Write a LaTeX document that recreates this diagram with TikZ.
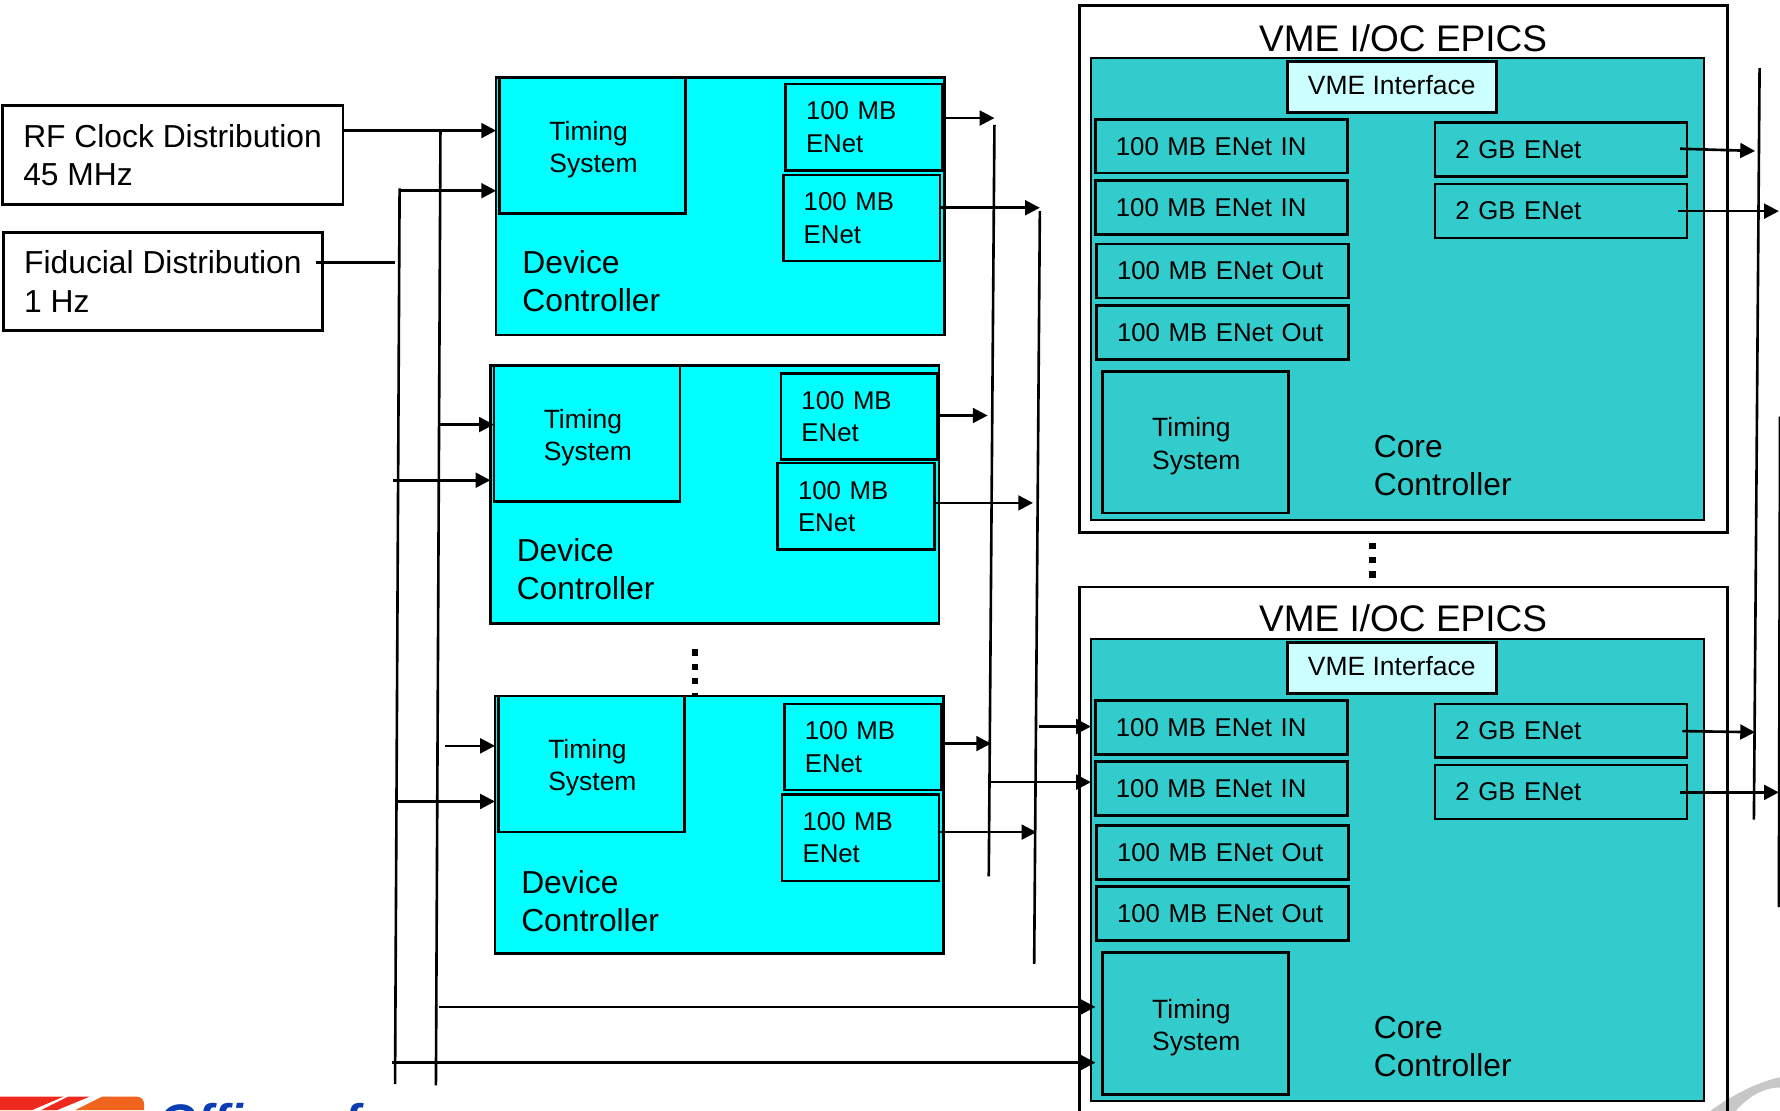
\documentclass[tikz,border=0pt]{standalone}
\usepackage{fontspec}
\setmainfont{Liberation Sans}
\usepackage{tikz}
\usetikzlibrary{arrows.meta,positioning,calc}
\definecolor{devcyan}{HTML}{00FFFF}
\definecolor{coreteal}{HTML}{33CCCC}
\definecolor{vmepale}{HTML}{CCFFFF}
\definecolor{logoblue}{HTML}{0A3CB4}
\definecolor{logored}{HTML}{EE2A1E}
\definecolor{logoorange}{HTML}{F0641E}
\newcommand{\bigsize}{\fontsize{28}{33.6}\selectfont}
\newcommand{\smallsize}{\fontsize{23.3}{28.3}\selectfont}
\newcommand{\netsize}{\fontsize{22.7}{28.5}\selectfont}
\newcommand{\timinglabel}{\rule{0pt}{24pt}Timing\\System}

\begin{document}
\begin{tikzpicture}[
  x=1pt, y=-1pt,
  box/.style={draw, line width=2.3pt, anchor=north west, inner sep=0pt, outer sep=0pt},
  srcbox/.style={box, fill=white, align=left, font=\bigsize, inner xsep=15.5pt, text depth=0pt},
  devbox/.style={box, fill=devcyan, minimum width=395pt, minimum height=227pt},
  timebox/.style={box, align=left, font=\smallsize, inner xsep=44pt, text width=76pt, minimum height=120pt},
  netbox/.style={box, align=left, font=\netsize, inner xsep=18pt, text width=102pt, minimum height=76pt},
  vmebox/.style={box, minimum width=571pt, minimum height=464pt},
  corebox/.style={box, fill=coreteal, minimum width=540pt, minimum height=407pt},
  ifacebox/.style={box, fill=vmepale, font=\smallsize, minimum width=184pt, minimum height=45pt, text depth=4pt},
  linkbox/.style={box, align=left, font=\netsize, inner xsep=18pt, text width=186pt, minimum height=47.5pt},
  ctrl/.style={anchor=west, align=left, font=\bigsize, inner sep=0pt},
  title/.style={anchor=center, font=\fontsize{32.6}{38}\selectfont, inner sep=0pt},
  arr/.style={-{Triangle[length=13pt,width=13pt]}, line width=2.3pt},
  bus/.style={line width=2.3pt},
  vdots/.style={line width=5.5pt, dash pattern=on 5.5pt off 7.2pt}
]
\clip (0,0) rectangle (1568,978);

% logos
\fill[logored] (0,966) -- (56,966) -- (28,978) -- (0,978) -- cycle;
\fill[logored] (60,966) -- (79,966) -- (50,978) -- (36,978) -- cycle;
\fill[logoorange] (66,978) -- (90,966) -- (120,966) .. controls (125,966) and (127,969) .. (127,974) -- (127,978) -- cycle;
\node[anchor=base west, inner sep=0pt, text=logoblue, font=\fontsize{44}{44}\selectfont\bfseries\itshape] (office) at (139,1004) {Office of};
\fill[black!22] (1498,985) .. controls (1522,966) and (1548,953) .. (1568,949) -- (1568,958) .. controls (1552,958) and (1536,968) .. (1524,985) -- cycle;

% sources
\node[srcbox, minimum width=300pt, minimum height=87pt] (rf) at (2,93) {RF Clock Distribution\\45 MHz};
\node[srcbox, minimum width=281pt, minimum height=86pt] (fid) at (3,205) {Fiducial Distribution\\1 Hz};

% device controllers
\node[devbox] (dev1) at (437,68) {};
\node[timebox] (tim1) at (440,68) {\timinglabel};
\node[netbox] (net1a) at (692,74) {100 MB\\ENet};
\node[netbox] (net1b) at (690,154) {100 MB\\ENet};
\node[ctrl] (lab1) at (460,248) {Device\\Controller};

\node[devbox] (dev2) at (432,322) {};
\node[timebox] (tim2) at (435,322) {\timinglabel};
\node[netbox] (net2a) at (688,329) {100 MB\\ENet};
\node[netbox] (net2b) at (685,408) {100 MB\\ENet};
\node[ctrl] (lab2) at (455,501.5) {Device\\Controller};

\node[devbox] (dev3) at (436,613) {};
\node[timebox] (tim3) at (439,613) {\timinglabel};
\node[netbox] (net3a) at (691,620) {100 MB\\ENet};
\node[netbox] (net3b) at (689,700) {100 MB\\ENet};
\node[ctrl] (lab3) at (459,793.5) {Device\\Controller};

% vme crates
\node[vmebox] (vme1) at (951,5) {};
\node[title] (ttl1) at (1236,34) {VME I/OC EPICS};
\node[corebox] (core1) at (961,51) {};
\node[ifacebox] (if1) at (1134,54) {VME Interface};
\node[linkbox] (in1a) at (965,105) {100 MB ENet IN};
\node[linkbox] (in1b) at (965,159) {100 MB ENet IN};
\node[linkbox] (out1a) at (966,215) {100 MB ENet Out};
\node[linkbox] (out1b) at (966,269) {100 MB ENet Out};
\node[linkbox] (gb1a) at (1264,108) {2 GB ENet};
\node[linkbox] (gb1b) at (1264,162) {2 GB ENet};
\node[timebox, minimum height=125pt] (tim4) at (971,327) {\timinglabel};
\node[ctrl] (lab4) at (1210,410) {Core\\Controller};

\node[vmebox] (vme2) at (951,517) {};
\node[title] (ttl2) at (1236,545) {VME I/OC EPICS};
\node[corebox] (core2) at (961,563) {};
\node[ifacebox] (if2) at (1134,566) {VME Interface};
\node[linkbox] (in2a) at (965,617) {100 MB ENet IN};
\node[linkbox] (in2b) at (965,671) {100 MB ENet IN};
\node[linkbox] (out2a) at (966,727) {100 MB ENet Out};
\node[linkbox] (out2b) at (966,781) {100 MB ENet Out};
\node[linkbox] (gb2a) at (1264,620) {2 GB ENet};
\node[linkbox] (gb2b) at (1264,674) {2 GB ENet};
\node[timebox, minimum height=125pt] (tim5) at (971,839) {\timinglabel};
\node[ctrl] (lab5) at (1210,922) {Core\\Controller};

% dots between the stacked boxes
\coordinate (dota) at (612,572);
\coordinate (dotb) at (612,613);
\coordinate (dotc) at (1209,478);
\coordinate (dotd) at (1209,512);
\draw[vdots] (dota) -- (dotb);
\draw[vdots] (dotc) -- (dotd);

% bus lines
\coordinate (clka) at (388,115);
\coordinate (clkb) at (384,956);
\coordinate (fida) at (352,166);
\coordinate (fidb) at (348,955);
\coordinate (neta) at (876,110);
\coordinate (netb) at (871,772);
\coordinate (netc) at (916,186);
\coordinate (netd) at (911,849);
\coordinate (upa) at (1550,60);
\coordinate (upb) at (1545,722);
\coordinate (upc) at (1568,367);
\coordinate (upd) at (1567,799);
\draw[bus] (clka) -- (clkb);
\draw[bus] (fida) -- (fidb);
\draw[bus] (neta) -- (netb);
\draw[bus] (netc) -- (netd);
\draw[bus] (upa) -- (upb);
\draw[bus] (upc) -- (upd);

% timing connections
\draw[arr] (rf.east |- 0,115) -- (dev1.west |- 0,115);
\draw[arr] (fida |- 0,168) -- (dev1.west |- 0,168);
\draw[bus] (278,231) -- (fidb |- 0,231);
\draw[arr] (388,374) -- (tim2.west |- 0,374);
\draw[arr] (346,423) -- (dev2.west |- 0,423);
\draw[arr] (392,657) -- (dev3.west |- 0,657);
\draw[arr] (351,706) -- (dev3.west |- 0,706);
\draw[arr] (387,887) -- ($(tim5.west |- 0,887)+(-6,0)$);
\draw[arr] (345,936) -- ($(tim5.west |- 0,936)+(-6,0)$);

% network connections
\draw[arr] (net1a.east |- 0,104) -- (neta |- 0,104);
\draw[arr] (net1b.east |- 0,183) -- (netc |- 0,183);
\draw[arr] (net2a.east |- 0,366) -- (870,366);
\draw[arr] (net2b.east |- 0,443) -- (910,443);
\draw[arr] (net3a.east |- 0,655) -- (873,655);
\draw[arr] (net3b.east |- 0,733) -- (913,733);
\draw[arr] (915,640) -- (core2.west |- 0,640);
\draw[arr] (872,689) -- (core2.west |- 0,689);
\draw[arr] (1480,131) -- (1546,133);
\draw[arr] (1478,186) -- (1567,186);
\draw[arr] (1482,644) -- (1546,645);
\draw[arr] (1480,698) -- (1567,698);
\end{tikzpicture}
\end{document}
